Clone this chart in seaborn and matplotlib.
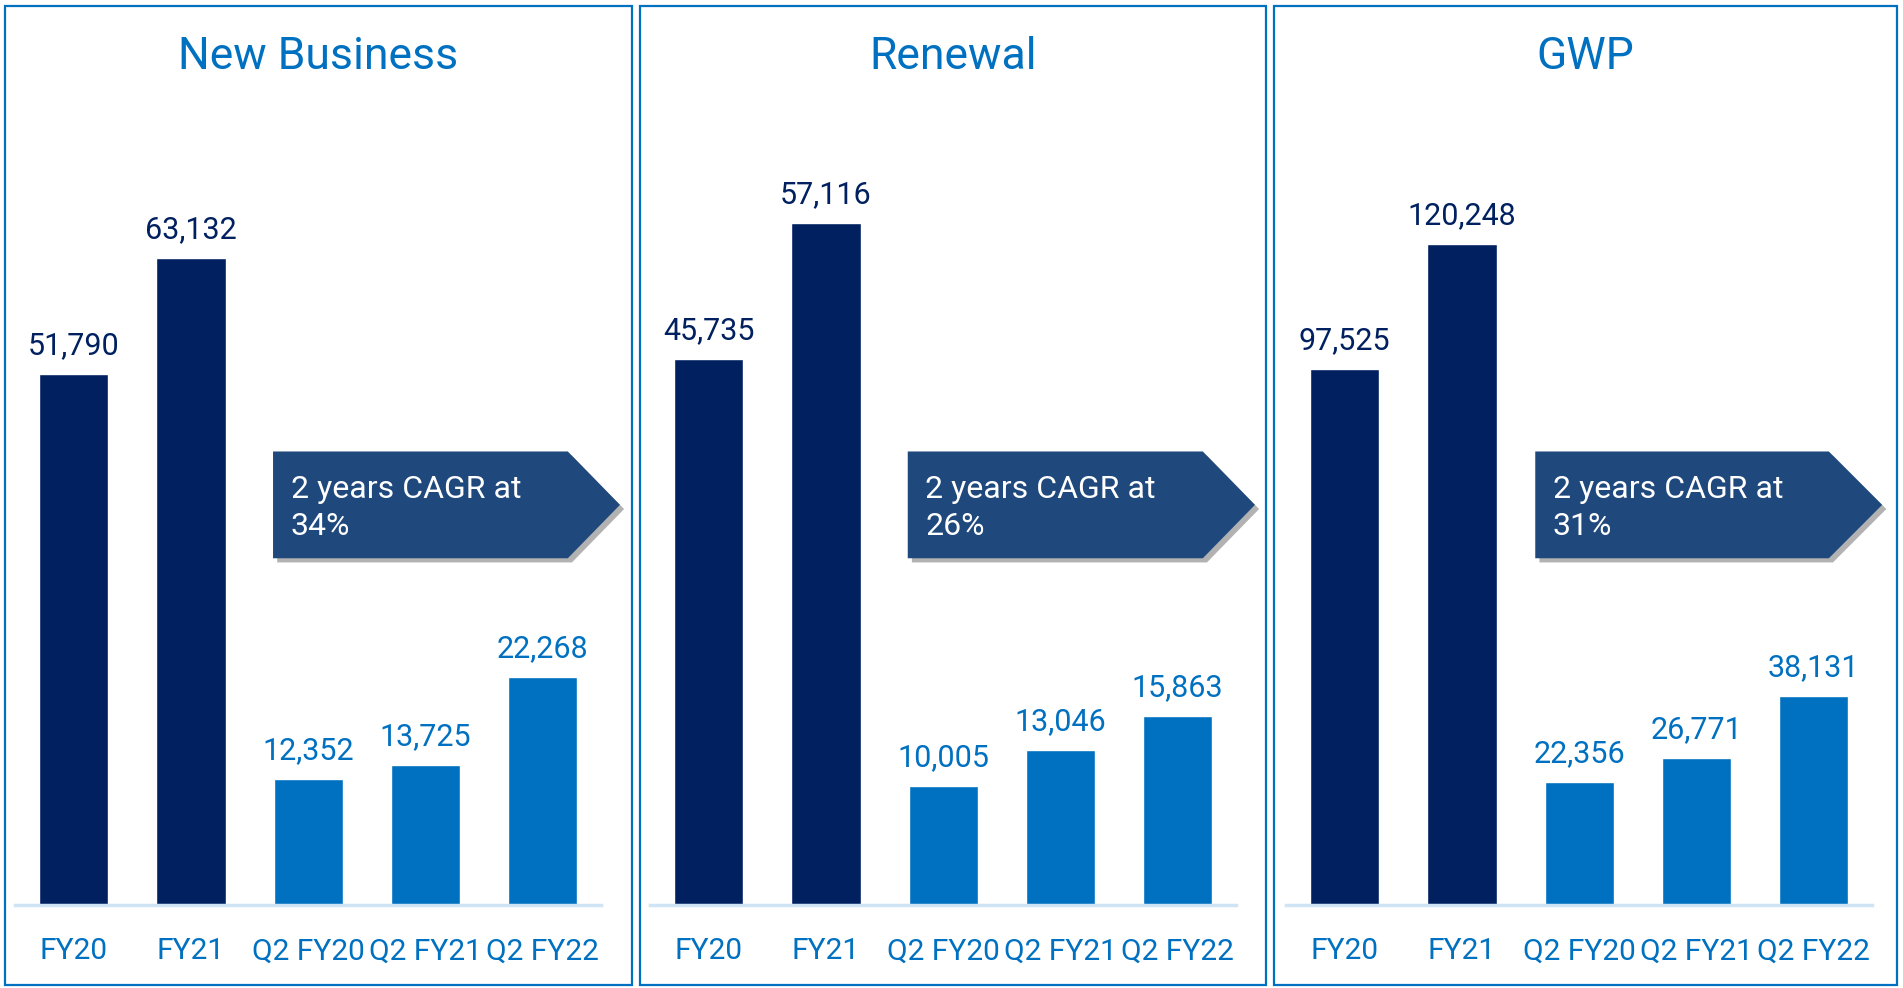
import matplotlib
matplotlib.use("Agg")
import matplotlib.pyplot as plt
import matplotlib.patches as mpatches
import matplotlib.patheffects as pe
import seaborn as sns
import pandas as pd

# ---------------- data ----------------
categories = ["FY20", "FY21", "Q2 FY20", "Q2 FY21", "Q2 FY22"]
panel_titles = ["New Business", "Renewal", "GWP"]
new_business = [51790, 63132, 12352, 13725, 22268]
renewal = [45735, 57116, 10005, 13046, 15863]
gwp = [97525, 120248, 22356, 26771, 38131]
cagr_texts = ["2 years CAGR at\n34%", "2 years CAGR at\n26%", "2 years CAGR at\n31%"]

# ---------------- style ----------------
sns.set_theme(style="white")
plt.rcParams["font.family"] = ["Roboto", "DejaVu Sans"]

NAVY = "#002060"
BLUE = "#0070C0"
ARROW = "#1F497D"
bar_colors = [NAVY, NAVY, BLUE, BLUE, BLUE]

W, H = 1903, 988
fig = plt.figure(figsize=(W / 100, H / 100), dpi=100)

series = [new_business, renewal, gwp]
ymaxes = [78500, 67440, 146400]
ax_left_px = [15.2, 650.2, 1286.2]
ax_w_px = 586.0
ax_bottom_px = 905.4
ax_top_px = 100.0
boxes_px = [(5, 632), (640, 1266), (1274, 1897)]
box_y = (6, 985)
arrow_x = [(0.44, 0.943, 1.032), (0.4395, 0.943, 1.032), (0.425, 0.926, 1.017)]

for i in range(3):
    # panel border
    x0, x1 = boxes_px[i]
    rect = mpatches.Rectangle((x0 / W, 1 - box_y[1] / H), (x1 - x0) / W,
                              (box_y[1] - box_y[0]) / H, transform=fig.transFigure,
                              fill=False, edgecolor=BLUE, linewidth=1.6)
    fig.add_artist(rect)
    # title
    fig.text((x0 + x1) / 2 / W, 1 - 57 / H, panel_titles[i], color=BLUE,
             fontsize=32, ha="center", va="center")

    ax = fig.add_axes([ax_left_px[i] / W, 1 - ax_bottom_px / H, ax_w_px / W,
                       (ax_bottom_px - ax_top_px) / H])
    df = pd.DataFrame({"cat": categories, "val": series[i]})
    sns.barplot(data=df, x="cat", y="val", hue="cat", palette=bar_colors,
                width=0.59, legend=False, ax=ax, saturation=1)
    ax.set_ylim(0, ymaxes[i])
    ax.set_xlim(-0.5, len(categories) - 0.5)
    for j, cont in enumerate(ax.containers):
        ax.bar_label(cont, labels=[f"{series[i][j]:,}"], padding=10,
                     fontsize=22, color=bar_colors[j])
    for s in ["top", "right", "left"]:
        ax.spines[s].set_visible(False)
    ax.spines["bottom"].set_color("#CFE5F6")
    ax.spines["bottom"].set_linewidth(2.5)
    ax.set_yticks([])
    ax.set_xlabel("")
    ax.set_ylabel("")
    ax.tick_params(axis="x", length=0, pad=23, labelsize=21.5, labelcolor=BLUE)
    ax.set_facecolor("none")

    # CAGR arrow
    xl, xr, xt = arrow_x[i]
    yb, yt = 0.431, 0.5636
    poly = mpatches.Polygon([(xl, yb), (xr, yb), (xt, (yb + yt) / 2), (xr, yt), (xl, yt)],
                            closed=True, transform=ax.transAxes, clip_on=False,
                            facecolor=ARROW, edgecolor="none",
                            path_effects=[pe.SimplePatchShadow(offset=(3, -3), shadow_rgbFace="#808080", alpha=0.6),
                                          pe.Normal()])
    ax.add_patch(poly)
    ax.text(xl + 0.03, (yb + yt) / 2 - 0.004, cagr_texts[i], transform=ax.transAxes,
            color="white", fontsize=23, ha="left", va="center", linespacing=1.35)

fig.savefig("out.png", dpi=100, facecolor="white")
